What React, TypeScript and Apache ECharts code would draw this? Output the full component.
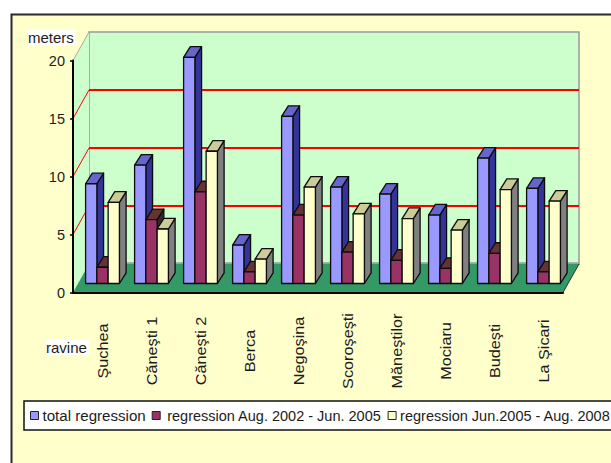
import React, { useEffect, useRef } from "react";
import * as echarts from "echarts";

// Gully head regression per ravine, in metres
const ravines = ["Şuchea", "Căneşti 1", "Căneşti 2", "Berca", "Negoşina", "Scoroşeşti", "Măneştilor", "Mociaru", "Budeşti", "La Şicari"];
const totalRegression = [8.6, 10.2, 19.5, 3.3, 14.4, 8.3, 7.7, 5.9, 10.8, 8.2];
const regression2002to2005 = [1.4, 5.5, 7.9, 1.0, 5.9, 2.7, 2.0, 1.3, 2.6, 1.0];
const regression2005to2008 = [7.0, 4.7, 11.4, 2.1, 8.3, 6.0, 5.6, 4.6, 8.1, 7.1];
const valueTicks = [0, 5, 10, 15, 20];
const seriesNames = ["total regression", "regression Aug. 2002 - Jun. 2005", "regression Jun.2005 - Aug. 2008"];

const FONT = '"Liberation Sans", Arial, sans-serif';
const INK = "#1c1c1c";

// Oblique projection of the box: how far the back wall sits from the front plane
const FRONT = { left: 73, top: 60.5, width: 490, height: 232 };
const WALL = { left: 89, top: 32, width: 490, height: 232 };
const BARS = { left: 78, top: 51.5, width: 490, height: 232 };
const BAR_DEPTH = { dx: 6.7, dy: 10.6 };
const BAR_SHARE = 0.23;
const CATEGORY_LABEL_Y = 351;

const faces = [
  { front: "#9999FF", side: "#333399", top: "#6666CC" },
  { front: "#993366", side: "#33292E", top: "#663333" },
  { front: "#FFFFCC", side: "#808080", top: "#CCCC99" },
];

// One cuboid per value: front face from the value scale, plus top and side faces
const cuboid = (slot: number) => (_params: any, api: any) => {
  const [cx, yTop] = api.coord([api.value(0), api.value(1)]);
  const [, yBase] = api.coord([api.value(0), 0]);
  const w = api.size([1, 0])[0] * BAR_SHARE;
  const x0 = cx - 1.5 * w + slot * w;
  const x1 = x0 + w;
  const { dx, dy } = BAR_DEPTH;
  const edge = { stroke: "#0c0c0c", lineWidth: 1.3, lineJoin: "round" };
  const tone = faces[slot];
  return {
    type: "group",
    children: [
      {
        type: "polygon",
        shape: { points: [[x1, yTop], [x1 + dx, yTop - dy], [x1 + dx, yBase - dy], [x1, yBase]] },
        style: { fill: tone.side, ...edge },
      },
      {
        type: "polygon",
        shape: { points: [[x0, yTop], [x0 + dx, yTop - dy], [x1 + dx, yTop - dy], [x1, yTop]] },
        style: { fill: tone.top, ...edge },
      },
      {
        type: "rect",
        shape: { x: x0, y: yTop, width: w, height: yBase - yTop },
        style: { fill: tone.front, ...edge },
      },
    ],
  };
};

// Vertical ravine names, stretched along the reading direction
const ravineLabel = (params: any, api: any) => {
  const [cx] = api.coord([api.value(0), 0]);
  return {
    type: "text",
    x: cx,
    y: CATEGORY_LABEL_Y,
    rotation: Math.PI / 2,
    scaleX: 1.16,
    style: {
      text: ravines[params.dataIndex],
      fill: INK,
      font: `14px ${FONT}`,
      align: "center",
      verticalAlign: "middle",
    },
  };
};

const hiddenCategory = (gridIndex: number) => ({
  type: "category" as const,
  gridIndex,
  data: ravines,
  show: false,
});

const hiddenValue = (gridIndex: number) => ({
  type: "value" as const,
  gridIndex,
  min: valueTicks[0],
  max: valueTicks[valueTicks.length - 1],
  interval: 5,
  show: false,
});

export default function App() {
  const ref = useRef<HTMLDivElement>(null);

  useEffect(() => {
    const chart = echarts.init(ref.current!, undefined, { renderer: "svg" });
    const unitHeight = FRONT.height / 20;
    const sideLines = valueTicks.slice(1, -1).map((v) => ({
      type: "line",
      z: 1,
      shape: {
        x1: FRONT.left,
        y1: FRONT.top + FRONT.height - v * unitHeight,
        x2: WALL.left,
        y2: WALL.top + WALL.height - v * unitHeight,
      },
      style: { stroke: "#FF0000", lineWidth: 1 },
    }));

    chart.setOption({
      animation: false,
      backgroundColor: "#FFFFFF",
      textStyle: { fontFamily: FONT },
      graphic: [
        {
          type: "rect",
          z: -10,
          shape: { x: 11.5, y: 14.5, width: 700, height: 600 },
          style: { fill: "#FFFFCC", stroke: "#2a2a2a", lineWidth: 2 },
        },
        {
          type: "polygon",
          z: 1,
          shape: {
            points: [
              [FRONT.left, FRONT.top],
              [WALL.left, WALL.top],
              [WALL.left, WALL.top + WALL.height],
              [FRONT.left, FRONT.top + FRONT.height],
            ],
          },
          style: { fill: "#CCFFCC" },
        },
        {
          type: "line",
          z: 1,
          shape: { x1: FRONT.left, y1: FRONT.top, x2: WALL.left, y2: WALL.top },
          style: { stroke: "#A8A8A8", lineWidth: 1 },
        },
        ...sideLines,
        {
          type: "polygon",
          z: 1,
          shape: {
            points: [
              [FRONT.left, FRONT.top + FRONT.height],
              [WALL.left, WALL.top + WALL.height],
              [WALL.left + WALL.width, WALL.top + WALL.height],
              [FRONT.left + FRONT.width, FRONT.top + FRONT.height],
            ],
          },
          style: { fill: "#339966" },
        },
        {
          type: "line",
          z: 1,
          shape: {
            x1: WALL.left + WALL.width,
            y1: WALL.top + WALL.height,
            x2: FRONT.left + FRONT.width,
            y2: FRONT.top + FRONT.height,
          },
          style: { stroke: "#1f3a2b", lineWidth: 1 },
        },
        {
          type: "line",
          z: 1,
          shape: {
            x1: WALL.left,
            y1: WALL.top + WALL.height - 1,
            x2: WALL.left + WALL.width,
            y2: WALL.top + WALL.height - 1,
          },
          style: { stroke: "#9a9a9a", lineWidth: 1.5 },
        },
        {
          type: "text",
          z: 5,
          x: 28,
          y: 30,
          style: {
            text: "meters",
            fill: INK,
            font: `15px ${FONT}`,
            backgroundColor: "#FFFFFF",
            padding: [0, 1, 0, 0],
          },
        },
        {
          type: "text",
          z: 5,
          x: 46,
          y: 340,
          style: {
            text: "ravine",
            fill: INK,
            font: `15px ${FONT}`,
            backgroundColor: "#FFFFFF",
            padding: [0, 2, 0, 0],
          },
        },
      ],
      grid: [
        { ...WALL, show: true, backgroundColor: "#CCFFCC", borderColor: "#999999", borderWidth: 1.5 },
        { ...BARS },
        { ...FRONT },
      ],
      xAxis: [
        hiddenCategory(0),
        hiddenCategory(1),
        {
          type: "category",
          gridIndex: 2,
          data: ravines,
          z: 3,
          axisTick: { show: false },
          axisLabel: { show: false },
          axisLine: { show: true, lineStyle: { color: "#000000", width: 2 } },
        },
      ],
      yAxis: [
        {
          ...hiddenValue(0),
          show: true,
          axisLine: { show: false },
          axisTick: { show: false },
          axisLabel: { show: false },
          splitLine: {
            show: true,
            showMinLine: false,
            showMaxLine: false,
            lineStyle: { color: "#FF0000", width: 2 },
          },
        },
        hiddenValue(1),
        {
          ...hiddenValue(2),
          show: true,
          z: 3,
          splitLine: { show: false },
          axisLine: { show: true, lineStyle: { color: "#000000", width: 2 } },
          axisTick: { show: true, length: 3, lineStyle: { color: "#000000", width: 1.5 } },
          axisLabel: { color: INK, fontSize: 14.5, fontFamily: FONT, margin: 8 },
        },
      ],
      legend: {
        left: 24,
        top: 401,
        width: 760,
        padding: [7, 12, 7, 6],
        backgroundColor: "#FFFFFF",
        borderColor: "#111111",
        borderWidth: 1.5,
        borderRadius: 0,
        icon: "rect",
        itemWidth: 8,
        itemHeight: 8,
        itemGap: 6,
        selectedMode: false,
        itemStyle: { borderColor: "#222222", borderWidth: 1 },
        textStyle: { color: INK, fontFamily: FONT, fontSize: 14.5, padding: [0, 0, 0, -1] },
        data: [
          { name: seriesNames[0], textStyle: { fontSize: 15.1 } },
          { name: seriesNames[1], textStyle: { padding: [0, 0, 0, 2] } },
          { name: seriesNames[2], textStyle: { fontSize: 14.5 } },
        ],
      },
      series: [
        ...[totalRegression, regression2002to2005, regression2005to2008].map((values, slot) => ({
          type: "custom",
          name: seriesNames[slot],
          xAxisIndex: 1,
          yAxisIndex: 1,
          z: 2,
          silent: true,
          itemStyle: { color: faces[slot].front },
          encode: { x: 0, y: 1 },
          data: values.map((v, i) => [i, v]),
          renderItem: cuboid(slot),
        })),
        {
          type: "custom",
          name: "ravine names",
          xAxisIndex: 1,
          yAxisIndex: 1,
          silent: true,
          encode: { x: 0, y: 1 },
          data: ravines.map((_, i) => [i, 0]),
          renderItem: ravineLabel,
        },
      ],
    });

    return () => chart.dispose();
  }, []);

  return <div ref={ref} style={{ position: "absolute", left: 0, top: 0, width: 611, height: 463 }} />;
}
